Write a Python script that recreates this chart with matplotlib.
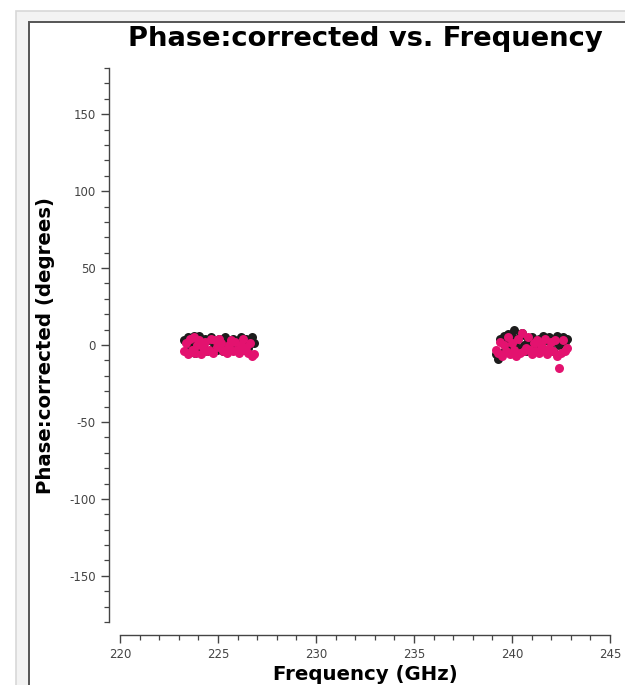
import matplotlib.pyplot as plt
from matplotlib.patches import Rectangle
from matplotlib.ticker import MultipleLocator

plt.rcParams['axes.unicode_minus'] = False

# spectral window 1 (lower sideband)
freq_lo = [223.25, 223.35, 223.45, 223.55, 223.65, 223.75, 223.85, 223.95, 224.05, 224.15,
           224.25, 224.35, 224.45, 224.55, 224.65, 224.75, 224.85, 224.95, 225.05, 225.15,
           225.25, 225.35, 225.45, 225.55, 225.65, 225.75, 225.85, 225.95, 226.05, 226.15,
           226.25, 226.35, 226.45, 226.55, 226.65, 226.75, 226.85]
phase_lo_black = [3, -4, 5, 1, -3, 6, -5, 2, 6, -2, 0, 4, -4, 3, 5, -2, 1, -3, 4, 0,
                  -4, 5, 3, 1, -3, 4, 0, -2, 3, 5, -3, 1, 4, -2, 3, 5, 1]
phase_lo_mag = [-4, 1, -6, 4, -3, 5, -5, 0, 3, -6, -1, 2, -4, -3, 4, -5, 3, -1, 4, 1,
                -4, -3, -5, 0, 3, -4, 2, -3, -5, 0, 4, -3, -1, -5, 1, -7, -6]

# spectral window 2 (upper sideband)
freq_hi = [239.20, 239.30, 239.40, 239.50, 239.60, 239.70, 239.80, 239.90, 240.00, 240.10,
           240.20, 240.30, 240.40, 240.50, 240.60, 240.70, 240.80, 240.90, 241.00, 241.10,
           241.20, 241.30, 241.40, 241.50, 241.60, 241.70, 241.80, 241.90, 242.00, 242.10,
           242.20, 242.30, 242.40, 242.50, 242.60, 242.70, 242.80]
phase_hi_black = [-6, -9, 4, -5, 6, 1, 7, -3, 5, 10, 3, -2, 6, 8, 0, -4, 4, 1, 5, -3,
                  2, 0, 4, -2, 6, 3, -3, 5, 1, -4, 4, 6, 0, 3, 5, 2, 4]
phase_hi_mag = [-3, -5, 2, -7, 0, -4, 5, -6, 1, -3, -7, 4, -5, 8, -4, -2, 5, -3, -6, 1,
                -4, 3, -5, 0, -3, 4, -6, -2, 2, -4, 3, -7, -15, -5, 3, -4, -2]

fig = plt.figure(figsize=(6.25, 6.85), dpi=100)
W, H = 625, 685

# window frame
fig.patches.append(Rectangle((16 / W, -0.1), 1, 1.1 - 11 / H, transform=fig.transFigure,
                             facecolor='#f3f3f3', edgecolor='#d8d8d8', lw=1.2, zorder=-2))
fig.patches.append(Rectangle((29 / W, -0.1), 1, 1.1 - 22 / H, transform=fig.transFigure,
                             facecolor='white', edgecolor='#555555', lw=1.4, zorder=-1))

ax = fig.add_axes([120 / W, 63 / H, 490 / W, 554 / H])
ax.set_zorder(2)
ax.patch.set_alpha(0)

ax.scatter(freq_lo, phase_lo_black, s=42, color='#1c1c1c', zorder=3, linewidths=0)
ax.scatter(freq_lo, phase_lo_mag, s=42, color='#e3126f', zorder=4, linewidths=0)
ax.scatter(freq_hi, phase_hi_black, s=42, color='#1c1c1c', zorder=3, linewidths=0)
ax.scatter(freq_hi, phase_hi_mag, s=42, color='#e3126f', zorder=4, linewidths=0)

ax.set_xlim(220, 245)
ax.set_ylim(-180, 180)
ax.xaxis.set_major_locator(MultipleLocator(5))
ax.xaxis.set_minor_locator(MultipleLocator(1))
ax.yaxis.set_major_locator(MultipleLocator(50))
ax.yaxis.set_minor_locator(MultipleLocator(10))

for s in ['top', 'right']:
    ax.spines[s].set_visible(False)
ax.spines['left'].set_position(('outward', 8))
ax.spines['bottom'].set_position(('outward', 9))
for s in ['left', 'bottom']:
    ax.spines[s].set_color('#444444')
    ax.spines[s].set_linewidth(1.0)

ax.tick_params(which='major', length=6, width=1.0, color='#444444',
               labelsize=8.5, labelcolor='#444444')
ax.tick_params(which='minor', length=3.5, width=0.9, color='#444444')

ax.set_title('Phase:corrected vs. Frequency', fontsize=19.7, fontweight='bold', pad=16)
ax.set_xlabel('Frequency (GHz)', fontsize=14.2, fontweight='bold', labelpad=3)
ax.set_ylabel('Phase:corrected (degrees)', fontsize=14.2, fontweight='bold', labelpad=10)

fig.savefig('out.png', dpi=100)
